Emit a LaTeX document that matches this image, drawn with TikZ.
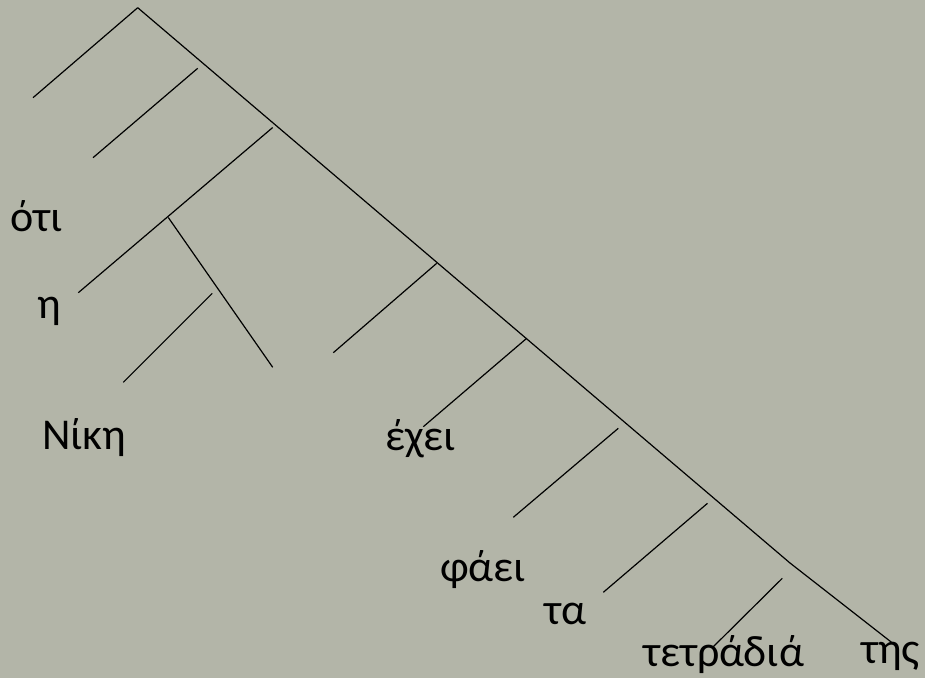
\documentclass[tikz,border=0pt]{standalone}
\usepackage{fontspec}
\setmainfont{Carlito}
\definecolor{bgc}{RGB}{179,181,168}
\begin{document}
\begin{tikzpicture}[x=1pt,y=-1pt,
  ln/.style={draw=black,line width=1.2pt},
  word/.style={inner sep=0pt,anchor=base west,font=\fontsize{44}{52}\selectfont}]
\fill[bgc] (0,0) rectangle (925,678);
\useasboundingbox (0,0) rectangle (925,678);
% spine
\coordinate (apex) at (137.7,7.7);
\coordinate (kink) at (790,563);
\coordinate (send) at (895,645);
\draw[ln] (apex) -- (kink) -- (send);
% branches
\coordinate (b1e) at (33,97.7);
\draw[ln] (apex) -- (b1e);
\coordinate (b2s) at (197.7,68.3); \coordinate (b2e) at (93,157.7);
\draw[ln] (b2s) -- (b2e);
\coordinate (b3s) at (272.7,127.5); \coordinate (b3e) at (78.3,292.7);
\draw[ln] (b3s) -- (b3e);
\coordinate (j) at (168.3,217.5); \coordinate (je) at (272.7,367.3);
\draw[ln] (j) -- (je);
\coordinate (sbs) at (212.3,293.3); \coordinate (sbe) at (123.3,382.3);
\draw[ln] (sbs) -- (sbe);
\coordinate (b4s) at (436.7,263.3); \coordinate (b4e) at (333.3,352.7);
\draw[ln] (b4s) -- (b4e);
\coordinate (b5s) at (526.7,338.3); \coordinate (b5e) at (423.3,426.7);
\draw[ln] (b5s) -- (b5e);
\coordinate (b6s) at (618.3,428.3); \coordinate (b6e) at (513.3,517.3);
\draw[ln] (b6s) -- (b6e);
\coordinate (b7s) at (707.5,503.3); \coordinate (b7e) at (603.3,592.3);
\draw[ln] (b7s) -- (b7e);
\coordinate (b8s) at (782.3,578.3); \coordinate (b8e) at (713.3,646.7);
\draw[ln] (b8s) -- (b8e);
% words
\node[word] (oti) at (10,231.7) {ότι};
\node[word] (i) at (37,318.3) {η};
\node[word] (niki) at (42,449.3) {Νίκη};
\node[word] (exei) at (385,450.7) {έχει};
\node[word] (fagei) at (440,581.5) {φάει};
\node[word] (ta) at (544,624) {τα};
\node[word] (tetradia) at (643,666.7) {τετράδιά};
\node[word] (tis) at (861,663) {της};
\end{tikzpicture}
\end{document}
